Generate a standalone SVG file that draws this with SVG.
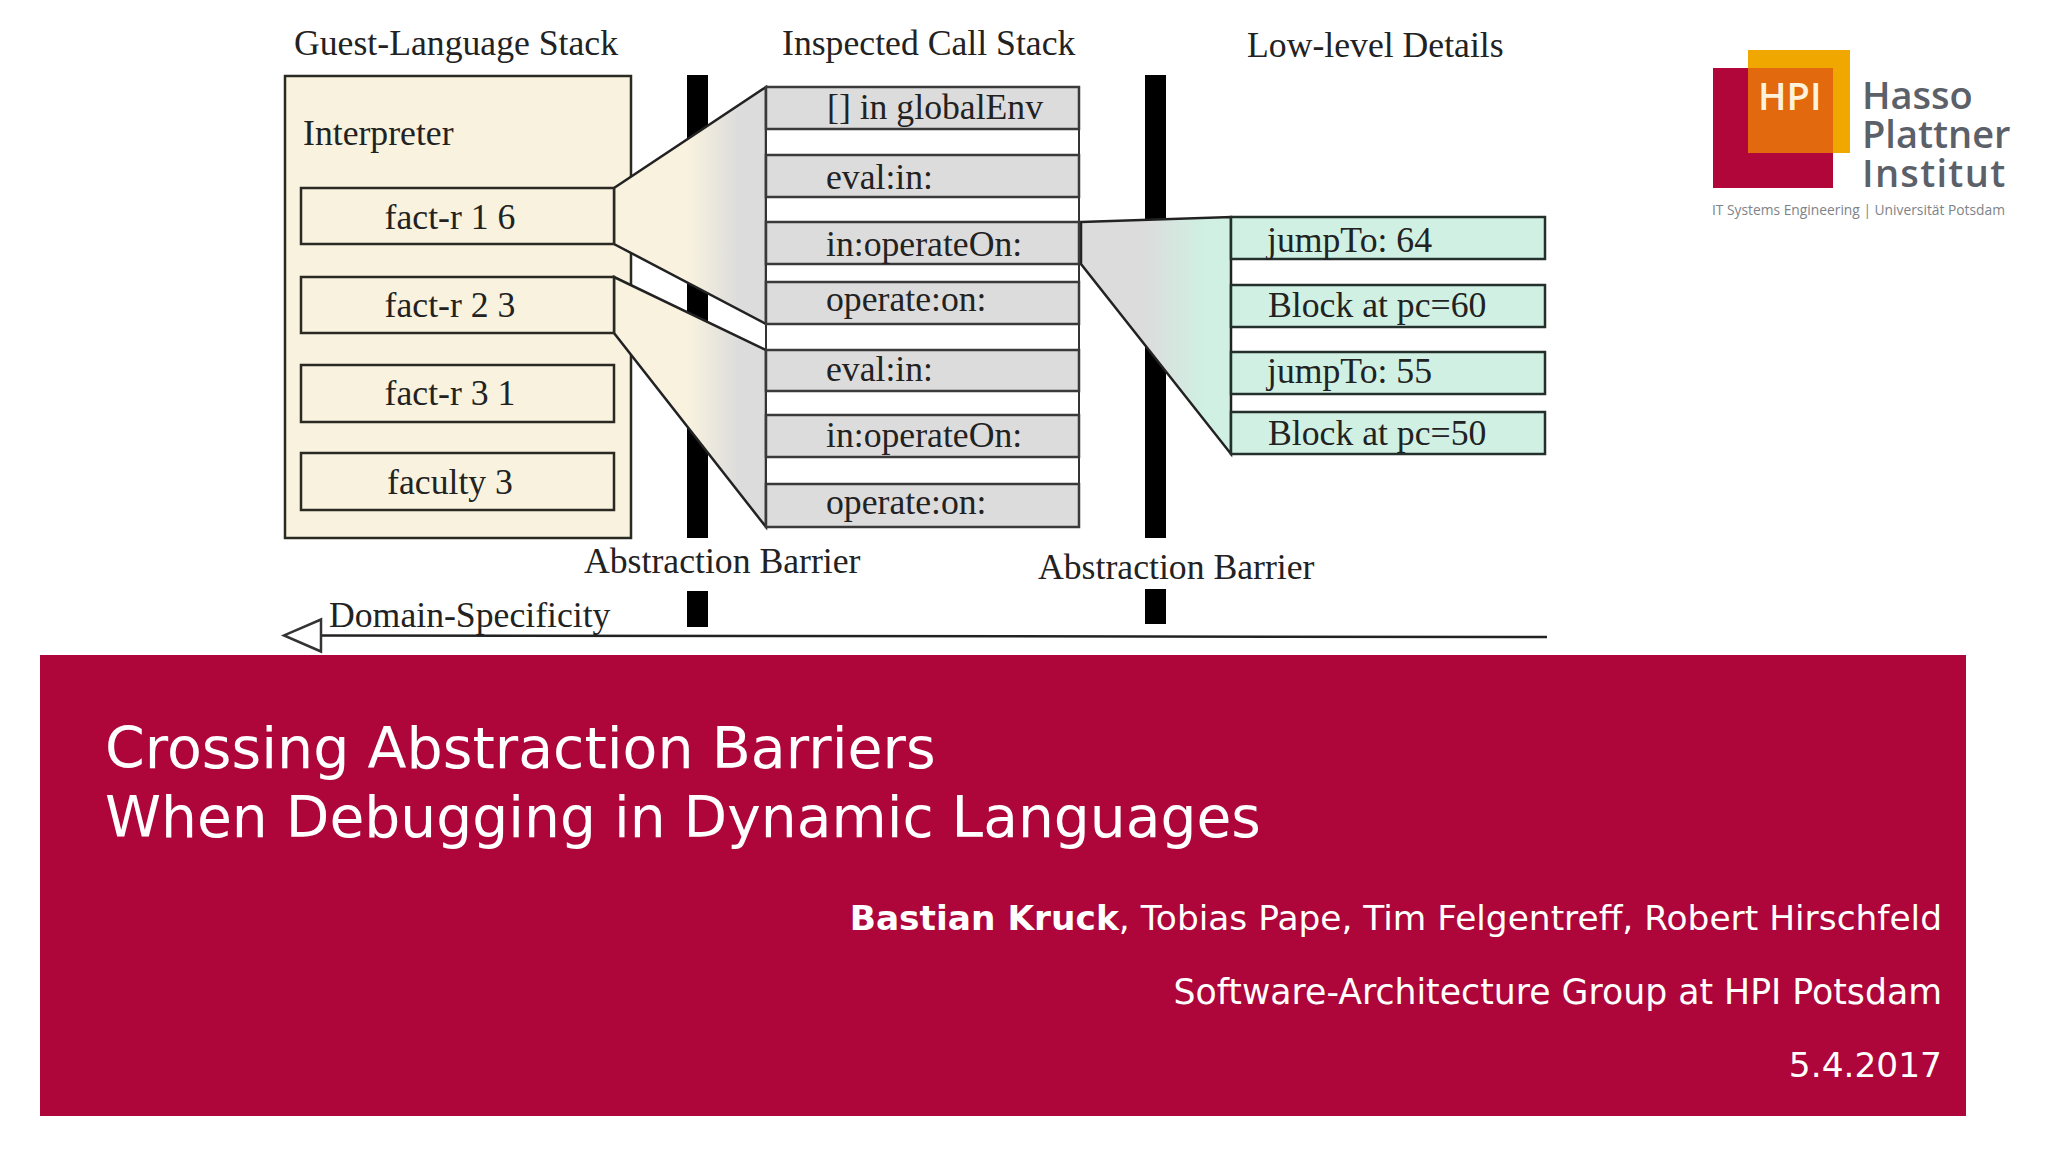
<svg xmlns="http://www.w3.org/2000/svg" width="2048" height="1152" viewBox="0 0 2048 1152">
<style>
.s{font-family:"Liberation Serif","Times New Roman",serif;font-size:35.7px;fill:#222}
.m{text-anchor:middle}
.t{font-family:"DejaVu Sans",sans-serif;fill:#fff}
.l{font-family:"Open Sans","Noto Sans",sans-serif;fill:#5c6068;font-weight:600;font-size:38px}
.cream{fill:#f8f2de;stroke:#2a2a22;stroke-width:2.5}
.gray{fill:#dcdcdc;stroke:#3a3a3a;stroke-width:2.5}
.mint{fill:#cff0e3;stroke:#24302c;stroke-width:2.5}
.bar{fill:#000}
.conn{stroke:#222;stroke-width:2.5}
</style>
<defs>
<linearGradient id="g1" gradientUnits="userSpaceOnUse" x1="614" x2="766" y1="0" y2="0"><stop offset="0.49" stop-color="#f8f2de"/><stop offset="0.82" stop-color="#dcdcdc"/></linearGradient>
<linearGradient id="g2" gradientUnits="userSpaceOnUse" x1="1081" x2="1231" y1="0" y2="0"><stop offset="0.42" stop-color="#dcdcdc"/><stop offset="0.83" stop-color="#cff0e3"/></linearGradient>
<marker id="hollow" markerUnits="userSpaceOnUse" markerWidth="40" markerHeight="36" refX="0" refY="17" orient="auto" overflow="visible"><path d="M0 1 L37 17 L0 33Z" fill="#fff" stroke="#333" stroke-width="2.5"/></marker>
</defs>
<rect width="2048" height="1152" fill="#fff"/>
<rect id="barrier-1" class="bar" x="687" y="75" width="21" height="463"/>
<rect id="barrier-1-lower" class="bar" x="687" y="591" width="21" height="36"/>
<rect id="barrier-2" class="bar" x="1145" y="75" width="21" height="463"/>
<rect id="barrier-2-lower" class="bar" x="1145" y="589" width="21" height="35"/>
<g id="guest-stack">
<rect class="cream" x="285" y="76" width="346" height="462"/>
<text class="s" x="294" y="55">Guest-Language Stack</text>
<text class="s" x="303" y="145">Interpreter</text>
</g>
<g id="connectors">
<path class="conn" fill="url(#g1)" d="M614 188L766 87V324L614 244Z"/>
<path class="conn" fill="url(#g1)" d="M614 277L766 350V527L614 333Z"/>
<path class="conn" fill="url(#g2)" d="M1081 222L1231 217V454L1081 264Z"/>
<line class="conn" x1="1547" y1="637" x2="321" y2="635.5" marker-end="url(#hollow)"/>
</g>
<g id="guest-frames">
<g id="frame-1"><rect class="cream" x="301" y="188" width="313" height="56"/><text class="s m" x="450" y="229">fact-r 1 6</text></g>
<g id="frame-2"><rect class="cream" x="301" y="277" width="313" height="56"/><text class="s m" x="450" y="317">fact-r 2 3</text></g>
<g id="frame-3"><rect class="cream" x="301" y="365" width="313" height="57"/><text class="s m" x="450" y="405">fact-r 3 1</text></g>
<g id="frame-4"><rect class="cream" x="301" y="453" width="313" height="57"/><text class="s m" x="450" y="494">faculty 3</text></g>
</g>
<g id="call-stack">
<text class="s" x="782" y="55">Inspected Call Stack</text>
<rect x="766" y="87" width="313" height="440" fill="#fff" stroke="#333" stroke-width="2"/>
<g id="call-1"><rect class="gray" x="766" y="87" width="313" height="42"/><text class="s" x="827" y="119">[] in globalEnv</text></g>
<g id="call-2"><rect class="gray" x="766" y="155" width="313" height="42"/><text class="s" x="826" y="189">eval:in:</text></g>
<g id="call-3"><rect class="gray" x="766" y="222" width="313" height="42"/><text class="s" x="826" y="256">in:operateOn:</text></g>
<g id="call-4"><rect class="gray" x="766" y="282" width="313" height="42"/><text class="s" x="826" y="311">operate:on:</text></g>
<g id="call-5"><rect class="gray" x="766" y="350" width="313" height="41"/><text class="s" x="826" y="381">eval:in:</text></g>
<g id="call-6"><rect class="gray" x="766" y="415" width="313" height="42"/><text class="s" x="826" y="447">in:operateOn:</text></g>
<g id="call-7"><rect class="gray" x="766" y="484" width="313" height="43"/><text class="s" x="826" y="514">operate:on:</text></g>
</g>
<g id="details">
<text class="s" x="1247" y="57">Low-level Details</text>
<g id="detail-1"><rect class="mint" x="1231" y="217" width="314" height="42"/><text class="s" x="1267" y="252">jumpTo: 64</text></g>
<g id="detail-2"><rect class="mint" x="1231" y="285" width="314" height="42"/><text class="s" x="1268" y="317">Block at pc=60</text></g>
<g id="detail-3"><rect class="mint" x="1231" y="352" width="314" height="42"/><text class="s" x="1267" y="383">jumpTo: 55</text></g>
<g id="detail-4"><rect class="mint" x="1231" y="412" width="314" height="42"/><text class="s" x="1268" y="445">Block at pc=50</text></g>
</g>
<text id="label-barrier-1" class="s" x="584" y="573">Abstraction Barrier</text>
<text id="label-barrier-2" class="s" x="1038" y="579">Abstraction Barrier</text>
<text id="label-domain" class="s" x="329" y="627">Domain-Specificity</text>
<g id="logo">
<rect x="1713" y="68" width="120" height="120" fill="#b1063a"/>
<rect x="1748" y="50" width="102" height="103" fill="#f0a800"/>
<rect x="1748" y="68" width="85" height="85" fill="#e2690d"/>
<text x="1758" y="110" font-family="Open Sans, sans-serif" font-weight="600" font-size="38" fill="#fff2dc">HPI</text>
<text class="l" x="1862" y="109">Hasso</text>
<text class="l" x="1862" y="148">Plattner</text>
<text class="l" x="1862" y="187" letter-spacing="1.3">Institut</text>
<text x="1712" y="215" font-family="Open Sans, sans-serif" font-size="13.8" fill="#7e8388">IT Systems Engineering | Universität Potsdam</text>
</g>
<g id="title-band">
<rect x="40" y="655" width="1926" height="461" fill="#ae053a"/>
<text class="t" x="105" y="768" font-size="57">Crossing Abstraction Barriers</text>
<text class="t" x="105" y="837" font-size="56.7">When Debugging in Dynamic Languages</text>
<text class="t" x="1942" y="930" font-size="34.4" text-anchor="end"><tspan font-weight="700">Bastian Kruck</tspan>, Tobias Pape, Tim Felgentreff, Robert Hirschfeld</text>
<text class="t" x="1942" y="1004" font-size="34.7" text-anchor="end">Software-Architecture Group at HPI Potsdam</text>
<text class="t" x="1942" y="1077" font-size="34.4" text-anchor="end">5.4.2017</text>
</g>
</svg>
